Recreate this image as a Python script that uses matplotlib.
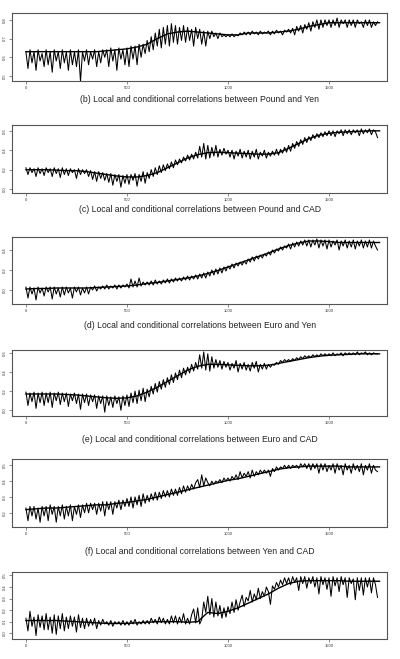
import numpy as np
import matplotlib
matplotlib.use("Agg")
import matplotlib.pyplot as plt

plt.rcParams['font.family'] = ['Liberation Sans', 'DejaVu Sans']

# local correlations, one value every 10 observations (0..1740)
local_a = [0.63, 0.54, 0.64, 0.57, 0.63, 0.53, 0.64, 0.58, 0.62, 0.55,
           0.64, 0.56, 0.63, 0.52, 0.64, 0.58, 0.63, 0.54, 0.64, 0.57,
           0.63, 0.53, 0.64, 0.56, 0.63, 0.55, 0.64, 0.47, 0.63, 0.58,
           0.64, 0.56, 0.63, 0.59, 0.64, 0.55, 0.63, 0.57, 0.64, 0.60,
           0.64, 0.55, 0.65, 0.58, 0.64, 0.53, 0.65, 0.59, 0.64, 0.56,
           0.65, 0.55, 0.66, 0.59, 0.66, 0.56, 0.67, 0.60, 0.67, 0.62,
           0.69, 0.63, 0.71, 0.64, 0.73, 0.66, 0.75, 0.65, 0.76, 0.67,
           0.77, 0.66, 0.78, 0.68, 0.77, 0.67, 0.76, 0.69, 0.77, 0.68,
           0.76, 0.69, 0.75, 0.66, 0.76, 0.70, 0.75, 0.67, 0.74, 0.66,
           0.74, 0.70, 0.74, 0.71, 0.73, 0.70, 0.73, 0.71, 0.72, 0.71,
           0.72, 0.71, 0.725, 0.71, 0.72, 0.715, 0.73, 0.72, 0.735, 0.72,
           0.735, 0.72, 0.74, 0.725, 0.735, 0.72, 0.74, 0.725, 0.735, 0.73,
           0.74, 0.72, 0.74, 0.725, 0.745, 0.73, 0.74, 0.72, 0.745, 0.735,
           0.75, 0.73, 0.755, 0.72, 0.765, 0.74, 0.77, 0.73, 0.775, 0.75,
           0.785, 0.74, 0.79, 0.76, 0.80, 0.75, 0.80, 0.76, 0.80, 0.77,
           0.80, 0.76, 0.80, 0.77, 0.81, 0.76, 0.80, 0.78, 0.80, 0.76,
           0.80, 0.77, 0.80, 0.76, 0.80, 0.78, 0.79, 0.76, 0.80, 0.77,
           0.80, 0.76, 0.79, 0.77, 0.79]
local_b = [0.22, 0.15, 0.22, 0.17, 0.21, 0.13, 0.22, 0.16, 0.21, 0.14,
           0.22, 0.17, 0.21, 0.13, 0.22, 0.16, 0.21, 0.12, 0.22, 0.15,
           0.21, 0.14, 0.21, 0.17, 0.20, 0.11, 0.21, 0.15, 0.20, 0.16,
           0.20, 0.13, 0.19, 0.10, 0.18, 0.08, 0.18, 0.11, 0.17, 0.09,
           0.16, 0.07, 0.16, 0.04, 0.15, 0.08, 0.15, 0.02, 0.14, 0.06,
           0.15, 0.05, 0.15, 0.09, 0.16, 0.03, 0.15, 0.08, 0.18, 0.06,
           0.17, 0.11, 0.20, 0.13, 0.22, 0.15, 0.24, 0.17, 0.25, 0.19,
           0.26, 0.21, 0.28, 0.22, 0.30, 0.25, 0.31, 0.27, 0.33, 0.29,
           0.35, 0.30, 0.36, 0.31, 0.38, 0.32, 0.44, 0.33, 0.47, 0.31,
           0.45, 0.32, 0.43, 0.34, 0.45, 0.33, 0.41, 0.35, 0.42, 0.36,
           0.40, 0.33, 0.40, 0.31, 0.39, 0.34, 0.41, 0.32, 0.39, 0.33,
           0.40, 0.31, 0.39, 0.33, 0.41, 0.31, 0.38, 0.34, 0.40, 0.32,
           0.38, 0.34, 0.39, 0.35, 0.41, 0.35, 0.41, 0.37, 0.43, 0.38,
           0.45, 0.39, 0.47, 0.42, 0.49, 0.44, 0.51, 0.46, 0.53, 0.48,
           0.54, 0.50, 0.56, 0.52, 0.57, 0.53, 0.58, 0.54, 0.59, 0.55,
           0.60, 0.55, 0.60, 0.54, 0.60, 0.57, 0.61, 0.55, 0.61, 0.57,
           0.61, 0.56, 0.61, 0.58, 0.61, 0.55, 0.62, 0.57, 0.61, 0.58,
           0.62, 0.56, 0.61, 0.59, 0.53]
local_c = [0.03, -0.08, 0.03, -0.04, 0.02, -0.10, 0.03, -0.03, 0.02, -0.06,
           0.03, -0.02, 0.03, -0.09, 0.03, -0.04, 0.02, -0.07, 0.03, -0.05,
           0.03, -0.03, 0.02, -0.08, 0.03, -0.02, 0.03, -0.05, 0.02, -0.03,
           0.03, -0.04, 0.03, 0.00, 0.04, -0.01, 0.03, 0.01, 0.04, 0.01,
           0.05, 0.01, 0.04, 0.02, 0.05, 0.01, 0.05, 0.02, 0.05, 0.03,
           0.06, 0.02, 0.11, 0.03, 0.09, 0.03, 0.12, 0.04, 0.08, 0.05,
           0.08, 0.05, 0.09, 0.05, 0.10, 0.06, 0.09, 0.06, 0.10, 0.07,
           0.11, 0.07, 0.11, 0.08, 0.12, 0.09, 0.12, 0.09, 0.13, 0.10,
           0.14, 0.10, 0.14, 0.11, 0.15, 0.11, 0.16, 0.12, 0.17, 0.12,
           0.18, 0.14, 0.20, 0.15, 0.21, 0.16, 0.22, 0.17, 0.23, 0.19,
           0.24, 0.21, 0.26, 0.22, 0.27, 0.24, 0.28, 0.25, 0.29, 0.26,
           0.31, 0.28, 0.33, 0.29, 0.34, 0.31, 0.35, 0.32, 0.36, 0.34,
           0.38, 0.35, 0.40, 0.37, 0.41, 0.39, 0.43, 0.40, 0.44, 0.42,
           0.46, 0.41, 0.47, 0.43, 0.48, 0.44, 0.49, 0.45, 0.50, 0.44,
           0.50, 0.43, 0.50, 0.45, 0.51, 0.42, 0.50, 0.44, 0.50, 0.41,
           0.50, 0.43, 0.49, 0.45, 0.50, 0.40, 0.49, 0.44, 0.50, 0.42,
           0.49, 0.43, 0.50, 0.41, 0.49, 0.44, 0.50, 0.42, 0.49, 0.43,
           0.50, 0.42, 0.49, 0.44, 0.40]
local_d = [0.19, 0.05, 0.18, 0.09, 0.19, 0.02, 0.18, 0.08, 0.19, 0.05,
           0.18, 0.08, 0.19, 0.03, 0.18, 0.10, 0.19, 0.06, 0.18, 0.09,
           0.18, 0.04, 0.17, 0.10, 0.18, 0.07, 0.17, 0.01, 0.17, 0.08,
           0.17, 0.05, 0.16, 0.09, 0.16, 0.02, 0.15, 0.07, 0.15, -0.02,
           0.15, 0.05, 0.14, 0.03, 0.15, 0.07, 0.14, 0.00, 0.15, 0.05,
           0.16, 0.04, 0.18, 0.08, 0.20, 0.07, 0.21, 0.10, 0.23, 0.09,
           0.22, 0.14, 0.25, 0.17, 0.28, 0.19, 0.30, 0.22, 0.32, 0.24,
           0.34, 0.27, 0.37, 0.29, 0.39, 0.32, 0.42, 0.34, 0.44, 0.37,
           0.45, 0.39, 0.48, 0.41, 0.50, 0.43, 0.58, 0.44, 0.61, 0.42,
           0.59, 0.41, 0.56, 0.44, 0.53, 0.45, 0.52, 0.43, 0.51, 0.45,
           0.50, 0.42, 0.49, 0.44, 0.52, 0.40, 0.49, 0.43, 0.50, 0.42,
           0.48, 0.41, 0.50, 0.44, 0.51, 0.40, 0.48, 0.43, 0.49, 0.43,
           0.48, 0.45, 0.48, 0.47, 0.50, 0.48, 0.52, 0.50, 0.53, 0.51,
           0.53, 0.51, 0.54, 0.52, 0.55, 0.53, 0.56, 0.54, 0.57, 0.55,
           0.57, 0.55, 0.58, 0.56, 0.58, 0.56, 0.59, 0.57, 0.59, 0.57,
           0.59, 0.57, 0.60, 0.57, 0.59, 0.58, 0.60, 0.57, 0.60, 0.58,
           0.60, 0.58, 0.60, 0.58, 0.61, 0.58, 0.60, 0.59, 0.61, 0.58,
           0.60, 0.58, 0.60, 0.59, 0.59]
local_e = [0.23, 0.15, 0.24, 0.18, 0.24, 0.16, 0.23, 0.14, 0.24, 0.18,
           0.24, 0.15, 0.25, 0.19, 0.24, 0.14, 0.24, 0.18, 0.25, 0.16,
           0.24, 0.18, 0.25, 0.15, 0.24, 0.19, 0.25, 0.17, 0.25, 0.20,
           0.26, 0.20, 0.26, 0.22, 0.26, 0.19, 0.26, 0.21, 0.27, 0.18,
           0.27, 0.22, 0.27, 0.19, 0.27, 0.23, 0.28, 0.22, 0.28, 0.24,
           0.29, 0.24, 0.30, 0.23, 0.30, 0.25, 0.31, 0.24, 0.32, 0.26,
           0.31, 0.27, 0.32, 0.28, 0.33, 0.28, 0.33, 0.29, 0.34, 0.30,
           0.34, 0.30, 0.35, 0.31, 0.35, 0.31, 0.36, 0.32, 0.37, 0.33,
           0.37, 0.34, 0.38, 0.35, 0.39, 0.41, 0.36, 0.44, 0.37, 0.42,
           0.39, 0.37, 0.40, 0.38, 0.40, 0.39, 0.41, 0.39, 0.42, 0.40,
           0.42, 0.40, 0.43, 0.41, 0.44, 0.41, 0.46, 0.42, 0.45, 0.43,
           0.46, 0.42, 0.47, 0.43, 0.46, 0.44, 0.47, 0.45, 0.47, 0.45,
           0.47, 0.43, 0.48, 0.46, 0.49, 0.47, 0.49, 0.48, 0.50, 0.48,
           0.50, 0.48, 0.50, 0.49, 0.50, 0.48, 0.51, 0.49, 0.51, 0.48,
           0.51, 0.47, 0.51, 0.48, 0.51, 0.45, 0.51, 0.47, 0.51, 0.46,
           0.50, 0.47, 0.51, 0.45, 0.51, 0.47, 0.50, 0.44, 0.51, 0.47,
           0.50, 0.45, 0.51, 0.47, 0.50, 0.46, 0.51, 0.44, 0.50, 0.47,
           0.51, 0.45, 0.50, 0.47, 0.46]
local_f = [0.13, 0.02, 0.19, 0.06, 0.14, -0.02, 0.16, 0.05, 0.15, 0.03,
           0.17, 0.03, 0.14, 0.00, 0.16, -0.01, 0.15, 0.04, 0.17, 0.02,
           0.14, 0.04, 0.15, 0.06, 0.14, 0.01, 0.16, 0.05, 0.13, 0.04,
           0.13, 0.06, 0.12, 0.07, 0.13, 0.04, 0.11, 0.07, 0.12, 0.08,
           0.10, 0.07, 0.11, 0.06, 0.10, 0.08, 0.10, 0.07, 0.11, 0.07,
           0.10, 0.07, 0.11, 0.08, 0.12, 0.07, 0.10, 0.08, 0.11, 0.08,
           0.11, 0.08, 0.13, 0.09, 0.12, 0.08, 0.14, 0.09, 0.13, 0.08,
           0.12, 0.08, 0.15, 0.09, 0.15, 0.08, 0.14, 0.09, 0.17, 0.08,
           0.13, 0.08, 0.16, 0.21, 0.09, 0.22, 0.08, 0.12, 0.27, 0.18,
           0.32, 0.16, 0.30, 0.14, 0.27, 0.15, 0.24, 0.13, 0.22, 0.14,
           0.23, 0.17, 0.27, 0.18, 0.29, 0.20, 0.27, 0.33, 0.23, 0.31,
           0.28, 0.37, 0.27, 0.34, 0.29, 0.39, 0.30, 0.36, 0.32, 0.40,
           0.36, 0.25, 0.41, 0.38, 0.44, 0.40, 0.46, 0.42, 0.48, 0.43,
           0.48, 0.42, 0.49, 0.44, 0.48, 0.37, 0.49, 0.43, 0.49, 0.39,
           0.48, 0.43, 0.49, 0.40, 0.48, 0.34, 0.49, 0.42, 0.48, 0.38,
           0.48, 0.32, 0.49, 0.41, 0.48, 0.36, 0.49, 0.42, 0.48, 0.31,
           0.48, 0.43, 0.47, 0.29, 0.48, 0.37, 0.48, 0.33, 0.48, 0.40,
           0.48, 0.35, 0.48, 0.42, 0.31]

# conditional (smooth) correlations, one value every 50 observations (0..1750)
cond_a = [0.63, 0.63, 0.63, 0.63, 0.63, 0.63, 0.63, 0.63, 0.635, 0.64,
          0.645, 0.655, 0.67, 0.70, 0.725, 0.735, 0.74, 0.735, 0.73, 0.725,
          0.72, 0.72, 0.73, 0.73, 0.73, 0.735, 0.74, 0.75, 0.765, 0.775,
          0.785, 0.785, 0.785, 0.785, 0.785, 0.785]
cond_b = [0.20, 0.20, 0.20, 0.195, 0.19, 0.19, 0.18, 0.165, 0.15, 0.135,
          0.125, 0.125, 0.14, 0.17, 0.22, 0.27, 0.32, 0.355, 0.375, 0.38,
          0.375, 0.37, 0.365, 0.36, 0.36, 0.375, 0.42, 0.47, 0.52, 0.555,
          0.575, 0.585, 0.59, 0.595, 0.60, 0.60]
cond_c = [0.01, 0.015, 0.015, 0.02, 0.02, 0.02, 0.02, 0.025, 0.03, 0.035,
          0.04, 0.05, 0.065, 0.075, 0.09, 0.105, 0.12, 0.14, 0.165, 0.195,
          0.23, 0.265, 0.30, 0.335, 0.37, 0.41, 0.445, 0.47, 0.49, 0.49,
          0.485, 0.475, 0.475, 0.475, 0.475, 0.475]
cond_d = [0.17, 0.17, 0.17, 0.17, 0.165, 0.16, 0.15, 0.14, 0.13, 0.125,
          0.13, 0.15, 0.19, 0.24, 0.30, 0.36, 0.42, 0.46, 0.48, 0.48,
          0.475, 0.47, 0.465, 0.465, 0.47, 0.49, 0.51, 0.53, 0.55, 0.565,
          0.575, 0.58, 0.585, 0.59, 0.59, 0.59]
cond_e = [0.22, 0.225, 0.23, 0.23, 0.235, 0.24, 0.245, 0.25, 0.25, 0.26,
          0.265, 0.275, 0.285, 0.30, 0.315, 0.33, 0.345, 0.36, 0.375, 0.39,
          0.405, 0.415, 0.43, 0.445, 0.46, 0.475, 0.485, 0.49, 0.495, 0.495,
          0.495, 0.495, 0.49, 0.49, 0.49, 0.49]
cond_f = [0.11, 0.11, 0.11, 0.11, 0.105, 0.10, 0.095, 0.09, 0.085, 0.085,
          0.085, 0.09, 0.095, 0.10, 0.10, 0.10, 0.095, 0.10, 0.18, 0.17,
          0.19, 0.22, 0.26, 0.30, 0.34, 0.39, 0.43, 0.45, 0.455, 0.455,
          0.455, 0.455, 0.45, 0.45, 0.45, 0.45]

captions = [None,
            "(b) Local and conditional correlations between Pound and Yen",
            "(c) Local and conditional correlations between Pound and CAD",
            "(d) Local and conditional correlations between Euro and Yen",
            "(e) Local and conditional correlations between Euro and CAD",
            "(f) Local and conditional correlations between Yen and CAD"]
yticks = [[0.5, 0.6, 0.7, 0.8], [0.0, 0.2, 0.4, 0.6], [0.0, 0.2, 0.4],
          [0.0, 0.2, 0.4, 0.6], [0.2, 0.3, 0.4, 0.5],
          [0.0, 0.1, 0.2, 0.3, 0.4, 0.5]]
ylims = [(0.473, 0.837), (-0.04, 0.66), (-0.14, 0.53), (-0.06, 0.63),
         (0.11, 0.54), (-0.05, 0.53)]
xticks = [0, 500, 1000, 1500]

locals_ = [local_a, local_b, local_c, local_d, local_e, local_f]
conds = [cond_a, cond_b, cond_c, cond_d, cond_e, cond_f]

x_local = np.arange(len(local_a)) * 10
x_cond = np.arange(len(cond_a)) * 50

W, H = 400, 659
fig = plt.figure(figsize=(W / 100, H / 100), dpi=100)

# panel boxes in pixels (top, bottom)
boxes = [(13, 81), (125, 193), (237, 304), (350, 416), (459, 527), (572, 639)]
cap_y = [None, 100, 210, 326, 440, 552]

for i in range(6):
    top, bot = boxes[i]
    ax = fig.add_axes([12 / W, 1 - bot / H, 375 / W, (bot - top) / H])
    ax.plot(x_local, locals_[i], color='black', lw=0.75)
    ax.plot(x_cond, conds[i], color='black', lw=1.0)
    ax.set_xlim(-69, 1787)
    ax.set_ylim(*ylims[i])
    ax.set_xticks(xticks)
    ax.set_yticks(yticks[i])
    ax.set_xticklabels([str(t) for t in xticks])
    ax.set_yticklabels(["%.1f" % t for t in yticks[i]], rotation=90, va='center')
    ax.tick_params(labelsize=3, length=2, width=0.4, pad=1.5, colors='#333333')
    for s in ax.spines.values():
        s.set_linewidth(0.8)
        s.set_color('#555555')
    if captions[i]:
        fig.text(200 / W, 1 - cap_y[i] / H, captions[i], ha='center',
                 va='center', fontsize=6.2, color='#222222')

fig.savefig("out.png", dpi=100)
